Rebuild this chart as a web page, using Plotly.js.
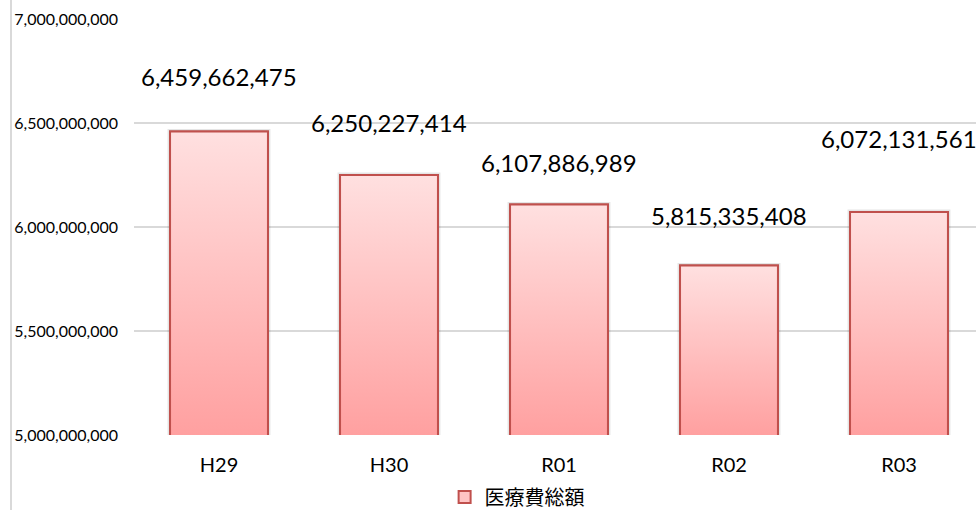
<!DOCTYPE html>
<html>
<head>
<meta charset="utf-8">
<script src="https://cdn.plot.ly/plotly-3.0.1.min.js"></script>
<style>
  html, body { margin: 0; padding: 0; background: #fff; overflow: hidden; }
  #chart { width: 976px; height: 510px; }
</style>
</head>
<body>
<div id="chart"></div>
<script>
// ---- data ----
const categories = ['H29', 'H30', 'R01', 'R02', 'R03'];
const totals = [6459662475, 6250227414, 6107886989, 5815335408, 6072131561];
const seriesName = '医療費総額';

// ---- style / layout settings ----
const Y_MIN = 5000000000, Y_MAX = 7000000000, Y_STEP = 500000000;
const BAR_W = 0.576;
const labelShift = [55, 52, 42, 50, 74];   // px above each bar top (manually placed labels)
const BORDER = '#c0504d';

const idx = categories.map((_, i) => i);
const traces = [];

// base bar trace (gives legend entry and draws the bars through the axis scale)
traces.push({
  type: 'bar', x: idx, y: totals, width: BAR_W, name: seriesName,
  marker: { color: '#ffc4c4', line: { color: BORDER, width: 2 } },
  hoverinfo: 'skip', showlegend: true
});

// per-bar gradient fill + soft shadow, computed from data
totals.forEach((v, i) => {
  const l = i - BAR_W / 2, r = i + BAR_W / 2;
  traces.push({
    type: 'scatter', mode: 'lines', showlegend: false, hoverinfo: 'skip',
    x: [l, l, r, r, l], y: [Y_MIN, v, v, Y_MIN, Y_MIN],
    line: { color: 'rgba(0,0,0,0.10)', width: 5 }
  });
  traces.push({
    type: 'scatter', mode: 'lines', showlegend: false, hoverinfo: 'skip',
    x: [l, l, r, r], y: [Y_MIN, v, v, Y_MIN],
    fill: 'toself',
    fillgradient: { type: 'vertical', colorscale: [[0, '#ffa0a0'], [1, '#ffe0e0']] },
    line: { color: BORDER, width: 2 }
  });
});

const annotations = totals.map((v, i) => ({
  x: i, y: v, xref: 'x', yref: 'y',
  text: v.toLocaleString('en-US'),
  showarrow: false, yshift: labelShift[i], yanchor: 'middle', xanchor: 'center',
  font: { family: 'Lato, "Open Sans", sans-serif', size: 24, color: '#000' }
}));

const layout = {
  width: 976, height: 510,
  margin: { l: 134, r: 0, t: 19, b: 75, pad: 0, autoexpand: false },
  paper_bgcolor: '#fff', plot_bgcolor: '#fff',
  showlegend: true,
  xaxis: {
    type: 'linear', range: [-0.5, 4.453],
    tickvals: idx, ticktext: categories,
    showgrid: false, zeroline: false, showline: false, ticks: '',
    ticklabelstandoff: 16, automargin: false,
    tickfont: { family: 'Lato, "Open Sans", sans-serif', size: 20, color: '#000' },
    fixedrange: true
  },
  yaxis: {
    range: [Y_MIN, Y_MAX], dtick: Y_STEP, tick0: Y_MIN,
    tickformat: ',d',
    showgrid: true, gridcolor: '#d9d9d9', gridwidth: 1.5,
    zeroline: false, showline: false, ticks: '',
    ticklabelstandoff: 15, automargin: false,
    tickfont: { family: 'Lato, "Open Sans", sans-serif', size: 16, color: '#000' },
    fixedrange: true
  },
  legend: {
    orientation: 'h', x: 0.455, xanchor: 'center', y: -0.149, yanchor: 'middle',
    font: { family: '"Noto Sans CJK JP", sans-serif', size: 20, color: '#000' },
    bgcolor: 'rgba(0,0,0,0)'
  },
  annotations: annotations,
  shapes: [{
    type: 'line', xref: 'paper', yref: 'paper',
    x0: -0.1461, x1: -0.1461, y0: -0.19, y1: 1.06,
    line: { color: '#d9d9d9', width: 2 }
  }]
};

Plotly.newPlot('chart', traces, layout, { displayModeBar: false, staticPlot: true });
</script>
</body>
</html>
